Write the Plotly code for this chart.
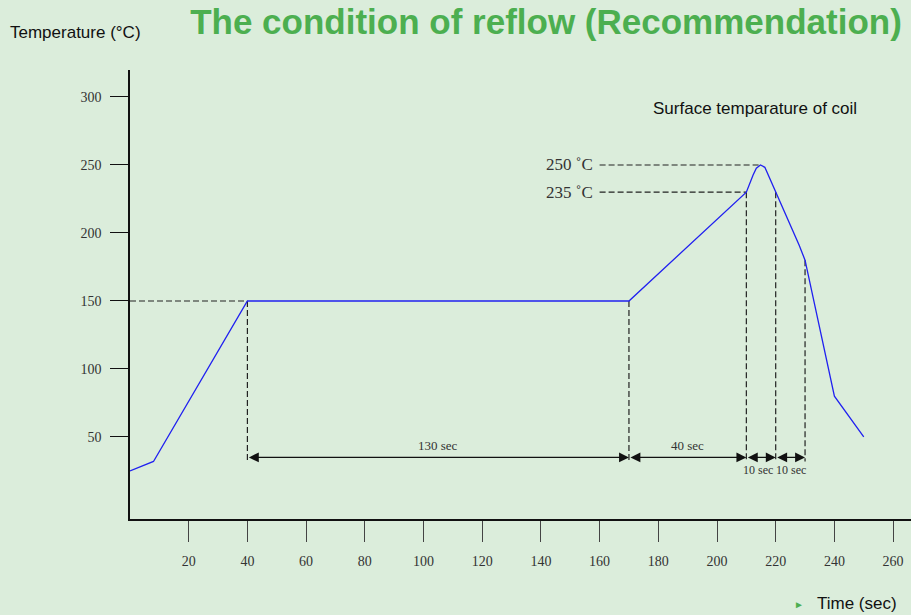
import plotly.graph_objects as go

# ---------------- data ----------------
profile_time = [0, 8, 40, 170, 210, 211.1, 212.3, 213.4, 214.8, 216.3, 218, 220, 224, 228, 230, 240, 250]
profile_temp = [25, 32, 150, 150, 230, 236.5, 242.6, 247.6, 250, 248.3, 240, 230, 211, 191, 180, 80, 50]

x_ticks = [20, 40, 60, 80, 100, 120, 140, 160, 180, 200, 220, 240, 260]
y_ticks = [50, 100, 150, 200, 250, 300]

guide_times = [40, 170, 210, 220, 230]          # vertical dashed guides
guide_tops = [150, 150, 230, 230, 180]           # where each guide meets the curve
guide_bottom = 32
dim_level = 35                                   # dimension arrow line level
segment_labels = ["130 sec", "40 sec", "10 sec", "10 sec"]
segment_label_above = [True, True, False, False]
segment_label_size = [13, 13, 12, 12]
segment_label_xshift = [0, 0, -3, 1]

preheat_temp = 150
peak_temps = [250, 230]
peak_times = [214.8, 210]
peak_labels = ["250 ˚C", "235 ˚C"]
peak_label_time = 160

# ---------------- figure ----------------
BG = "#dbeddb"
SERIF = "Liberation Serif, Times New Roman, serif"
SANS = "Liberation Sans, Arial, sans-serif"

fig = go.Figure()

gx, gy = [], []
gx += [0, guide_times[0], None]
gy += [preheat_temp, preheat_temp, None]
for t, top in zip(guide_times, guide_tops):
    gx += [t, t, None]
    gy += [top, guide_bottom, None]
for pt, ptime in zip(peak_temps, peak_times):
    gx += [peak_label_time, ptime, None]
    gy += [pt, pt, None]
fig.add_trace(go.Scatter(x=gx, y=gy, mode="lines",
                         line=dict(color="#222222", width=1.2, dash="6px,3px"),
                         hoverinfo="skip", showlegend=False))

fig.add_trace(go.Scatter(x=profile_time, y=profile_temp, mode="lines",
                         line=dict(color="#2020f0", width=1.3),
                         showlegend=False))

annotations = []
for i in range(len(guide_times) - 1):
    a, b = guide_times[i], guide_times[i + 1]
    annotations.append(dict(x=b, y=dim_level, ax=a, ay=dim_level,
                            xref="x", yref="y", axref="x", ayref="y",
                            text="", showarrow=True, arrowside="end+start",
                            arrowhead=2, arrowsize=1.8, arrowwidth=1.1,
                            arrowcolor="#111111", standoff=0, startstandoff=0))
    annotations.append(dict(x=(a + b) / 2, y=dim_level, xref="x", yref="y",
                            text=segment_labels[i], showarrow=False,
                            yshift=12 if segment_label_above[i] else -13,
                            xshift=segment_label_xshift[i],
                            font=dict(family=SERIF, size=segment_label_size[i], color="#333333")))

for pt, lab in zip(peak_temps, peak_labels):
    annotations.append(dict(x=peak_label_time, y=pt, xref="x", yref="y",
                            text=lab, showarrow=False, xanchor="right", xshift=-5,
                            font=dict(family=SERIF, size=17, color="#333333")))

W, H = 911, 615
L, T, B = 130, 70, 96
pw, ph = W - L, H - T - B


def px_to_paper(px, py):
    return (px - L) / pw, (H - B - py) / ph


x0, y0 = px_to_paper(8, 33)
annotations.append(dict(x=x0, y=y0, xref="paper", yref="paper", text="Temperature (°C)",
                        showarrow=False, xanchor="left", yanchor="middle",
                        font=dict(family=SANS, size=17, color="#111111")))
x0, y0 = px_to_paper(651, 108)
annotations.append(dict(x=x0, y=y0, xref="paper", yref="paper", text="Surface temparature of coil",
                        showarrow=False, xanchor="left", yanchor="middle",
                        font=dict(family=SANS, size=17, color="#111111")))
x0, y0 = px_to_paper(815, 603)
annotations.append(dict(x=x0, y=y0, xref="paper", yref="paper", text="Time (sec)",
                        showarrow=False, xanchor="left", yanchor="middle",
                        font=dict(family=SANS, size=17, color="#111111")))
x0, y0 = px_to_paper(799, 604)
annotations.append(dict(x=x0, y=y0, xref="paper", yref="paper", text="►",
                        showarrow=False, xanchor="center", yanchor="middle",
                        font=dict(family=SANS, size=10, color="#4caf50")))

fig.update_layout(
    width=W, height=H,
    margin=dict(l=L, r=0, t=T, b=B),
    paper_bgcolor=BG, plot_bgcolor=BG,
    title=dict(text="<b>The condition of reflow (Recommendation)</b>",
               x=546 / W, xref="container", xanchor="center",
               y=1 - 22 / H, yref="container", yanchor="middle",
               font=dict(family=SANS, size=35, color="#4caf50")),
    annotations=annotations,
    showlegend=False,
)
fig.update_xaxes(range=[0, pw / 2.935], tickvals=x_ticks, ticktext=[str(v) for v in x_ticks],
                 showgrid=False, zeroline=False, showline=True, linecolor="#111111", linewidth=1.5,
                 ticks="outside", ticklen=21, tickwidth=1.3, tickcolor="#444444",
                 ticklabelstandoff=7,
                 tickfont=dict(family=SERIF, size=14, color="#333333"))
fig.update_yaxes(range=[-10.3, -10.3 + ph / 1.36], tickvals=y_ticks, ticktext=[str(v) for v in y_ticks],
                 showgrid=False, zeroline=False, showline=True, linecolor="#111111", linewidth=1.5,
                 ticks="outside", ticklen=18, tickwidth=1.3, tickcolor="#111111",
                 ticklabelstandoff=6,
                 tickfont=dict(family=SERIF, size=14, color="#333333"))

fig.write_html("out.html", config={"displayModeBar": False},
               post_script="document.body.style.margin='0';document.body.style.overflow='hidden';")
